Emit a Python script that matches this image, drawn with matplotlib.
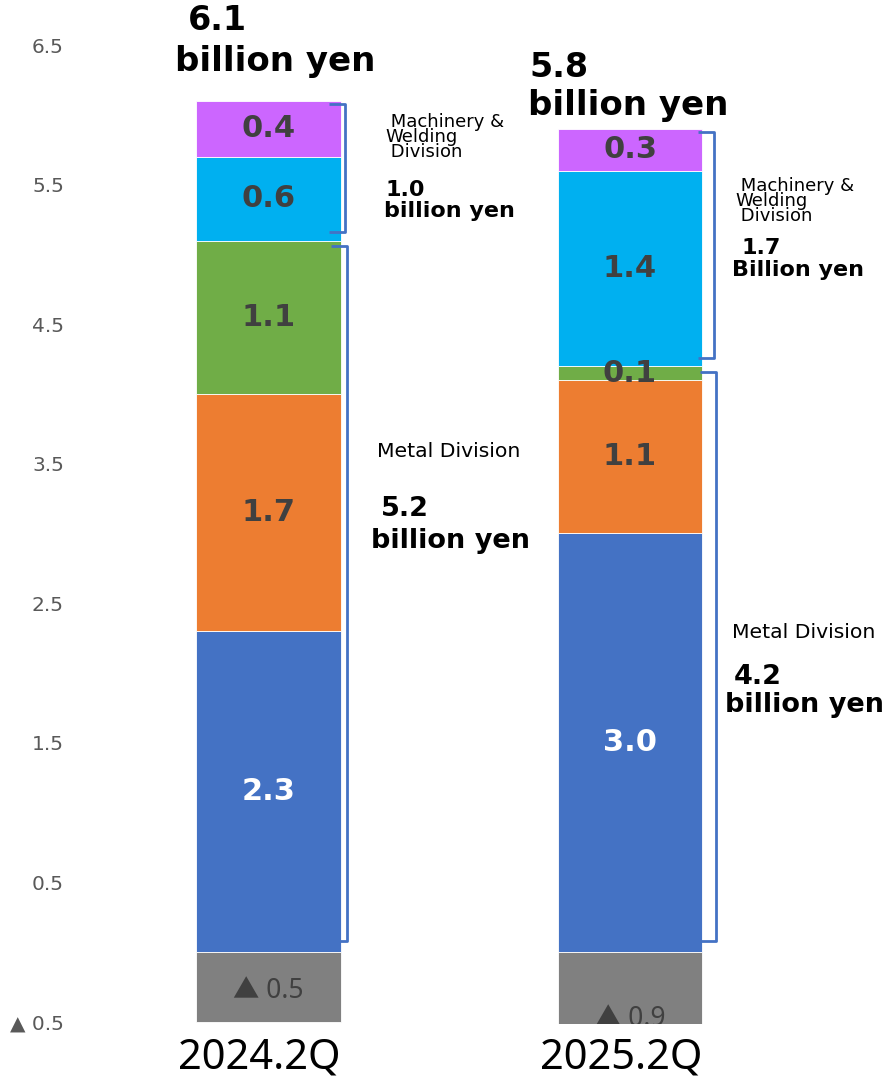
#!/usr/bin/env python3

from matplotlib import pyplot as plt
from matplotlib import transforms
import numpy as np

# segment values per period (billion yen)
periods = ["2024.2Q", "2025.2Q"]
adjustment = [-0.5, -0.9]
metal_1 = [2.3, 3.0]
metal_2 = [1.7, 1.1]
metal_3 = [1.1, 0.1]
machinery_1 = [0.6, 1.4]
machinery_2 = [0.4, 0.3]

total_labels = ["6.1", "5.8"]
metal_labels = ["5.2", "4.2"]
machinery_labels = ["1.0", "1.7"]
unit_labels = ["billion yen", "Billion yen"]

y_ticks = [-0.5, 0.5, 1.5, 2.5, 3.5, 4.5, 5.5, 6.5]
y_tick_labels = ["▲ 0.5", "0.5", "1.5", "2.5", "3.5", "4.5", "5.5", "6.5"]


def bracket(ax, x, y0, y1, arm):
    xs = [x - arm, x, x, x - arm]
    ys = [y1, y1, y0, y0]
    ax.plot(xs, ys, color="#4472C4", lw=2, solid_joinstyle="round",
            solid_capstyle="butt", clip_on=False, zorder=4)


def main():
    fig = plt.figure(figsize=(8.86, 10.77), dpi=100)
    ax = fig.add_axes([75 / 886, 53 / 1077, 1 - 75 / 886, 1 - 53 / 1077])

    x = np.arange(len(periods))
    width = 0.4
    dark = "#404040"

    # stacked positive segments, bottom to top
    stack = [
        (metal_1, "#4472C4", "white"),
        (metal_2, "#ED7D31", dark),
        (metal_3, "#70AD47", dark),
        (machinery_1, "#00B0F0", dark),
        (machinery_2, "#CC66FF", dark),
    ]
    bottom = np.zeros(len(periods))
    for values, color, txt_color in stack:
        values = np.array(values)
        ax.bar(x, values, width, bottom=bottom, color=color,
               edgecolor="white", linewidth=0.6, zorder=2)
        for xi, b, v in zip(x, bottom, values):
            ax.text(xi, b + v / 2, f"{v:.1f}", ha="center", va="center",
                    fontsize=22, fontweight="bold", color=txt_color, zorder=3)
        bottom += values
    totals = bottom

    # negative adjustment below zero
    ax.bar(x, adjustment, width, color="#808080", edgecolor="white",
           linewidth=0.6, zorder=2)
    for xi, v in zip(x, adjustment):
        ax.text(xi, v / 2 - 0.03, f"▲ {abs(v):.1f}", ha="center",
                va="center", fontsize=19,
                family=["Noto Sans", "Noto Sans CJK JP", "DejaVu Sans"],
                color=dark, zorder=3, clip_on=True)

    # division brackets
    metal_tot = np.array(metal_1) + np.array(metal_2) + np.array(metal_3)
    br_off = [0.017, 0.038]
    for i, xi in enumerate(x):
        xr = xi + width / 2 + br_off[i]
        bracket(ax, xr, 0.08, metal_tot[i] - 0.04, 0.045)
        bracket(ax, xr - 0.005, metal_tot[i] + 0.06, totals[i] - 0.02, 0.045)

    # totals above the bars
    top_pos = [(-0.222, 6.68, -0.259, 6.38), (0.723, 6.34, 0.718, 6.07)]
    for i, (nx, ny, ux, uy) in enumerate(top_pos):
        ax.text(nx, ny, total_labels[i], ha="left", va="center",
                fontsize=24, fontweight="bold", color="black")
        ax.text(ux, uy, "billion yen", ha="left", va="center",
                fontsize=24.5, fontweight="bold", color="black")

    # machinery & welding division notes
    mach_pos = [(0.323, 5.842, 0.325, 5.462, 0.320, 5.312),
                (1.291, 5.384, 1.307, 5.047, 1.282, 4.889)]
    for i, (lx, ly, nx, ny, ux, uy) in enumerate(mach_pos):
        ax.text(lx, ly, " Machinery &\nWelding\n Division", ha="left",
                va="center", fontsize=13, linespacing=0.78, color="black")
        ax.text(nx, ny, machinery_labels[i], ha="left", va="center",
                fontsize=16, fontweight="bold", color="black")
        ax.text(ux, uy, unit_labels[i], ha="left", va="center",
                fontsize=16, fontweight="bold", color="black")

    # metal division notes
    metal_pos = [(0.300, 3.591, 0.311, 3.176, 0.284, 2.946),
                 (1.282, 2.287, 1.288, 1.971, 1.263, 1.771)]
    for i, (lx, ly, nx, ny, ux, uy) in enumerate(metal_pos):
        ax.text(lx, ly, "Metal Division", ha="left", va="center",
                fontsize=14.7, color="black")
        ax.text(nx, ny, metal_labels[i], ha="left", va="center",
                fontsize=19.5, fontweight="bold", color="black")
        ax.text(ux, uy, "billion yen", ha="left", va="center",
                fontsize=19.5, fontweight="bold", color="black")

    # axes styling
    ax.set_xlim(-0.535, 1.708)
    ax.set_ylim(-0.516, 6.824)
    ax.set_yticks(y_ticks)
    ax.set_yticklabels(y_tick_labels, fontsize=14.5, color="#595959")
    ax.set_xticks(x)
    ax.set_xticklabels(periods, fontsize=30, family="Noto Sans",
                       color="black")
    ax.tick_params(axis="both", length=0)
    ax.tick_params(axis="y", pad=8)
    ax.tick_params(axis="x", pad=9)
    # period labels sit a little left of the bar centres
    shift = transforms.ScaledTranslation(-0.09, 0, fig.dpi_scale_trans)
    for lbl in ax.xaxis.get_majorticklabels():
        lbl.set_transform(lbl.get_transform() + shift)
    for spine in ax.spines.values():
        spine.set_visible(False)

    fig.savefig("out.png", dpi=100)


if __name__ == "__main__":
    main()
